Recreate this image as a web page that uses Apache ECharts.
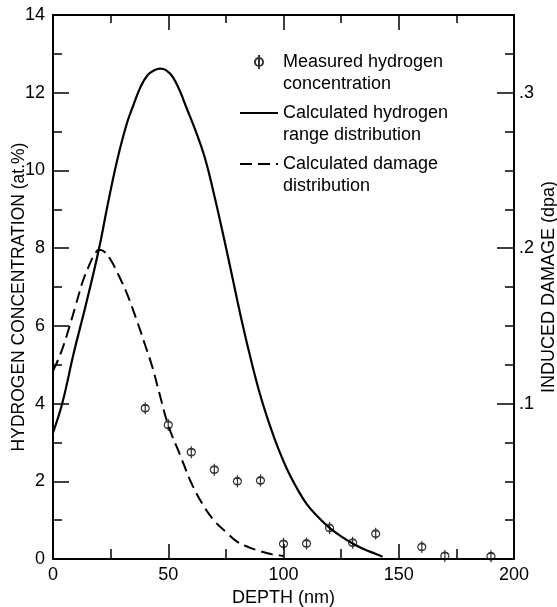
<!DOCTYPE html>
<html>
<head>
<meta charset="utf-8">
<script src="https://cdn.jsdelivr.net/npm/echarts@6/dist/echarts.min.js"></script>
<style>
html,body{margin:0;padding:0;background:#fff;}
#chart{width:557px;height:607px;}
</style>
</head>
<body>
<div id="chart"></div>
<script>
// Measured hydrogen concentration (at.%) vs depth (nm)
const depthMeasured = [40, 50, 60, 70, 80, 90, 100, 110, 120, 130, 140, 160, 170, 190];
const hydrogenMeasured = [3.88, 3.45, 2.75, 2.3, 2.0, 2.02, 0.39, 0.4, 0.8, 0.42, 0.65, 0.31, 0.08, 0.07];

// Calculated hydrogen range distribution (at.%)
const depthRange = [0, 4, 9, 14.5, 20, 24, 28, 32, 35, 38, 41, 44, 46.5, 49, 52, 55, 58, 62, 66, 70, 74, 78, 82, 86, 90, 94, 98, 102, 106, 110, 115, 120, 125, 130, 135, 140, 143];
const hydrogenRange = [3.25, 4.0, 5.3, 6.6, 8.0, 9.2, 10.3, 11.2, 11.7, 12.15, 12.45, 12.58, 12.62, 12.58, 12.4, 12.05, 11.6, 11.0, 10.3, 9.35, 8.3, 7.2, 6.1, 5.1, 4.2, 3.45, 2.8, 2.25, 1.8, 1.42, 1.08, 0.8, 0.58, 0.4, 0.25, 0.13, 0.06];

// Calculated damage distribution (dpa)
const depthDamage = [0, 3, 6, 10, 13, 16, 18, 20, 22, 25, 28, 32, 36, 40, 43, 46, 50, 55, 60, 65, 70, 75, 80, 85, 90, 95, 100];
const damageDpa = [0.121, 0.131, 0.144, 0.164, 0.179, 0.19, 0.196, 0.199, 0.198, 0.1925, 0.184, 0.171, 0.155, 0.1375, 0.124, 0.1075, 0.086, 0.0675, 0.049, 0.035, 0.0245, 0.0175, 0.011, 0.0075, 0.005, 0.003, 0.002];

// Tick labels
const rightTickLabels = {0.1: '.1', 0.2: '.2', 0.3: '.3'};

const legendNames = ['Measured hydrogen\nconcentration', 'Calculated hydrogen\nrange distribution', 'Calculated damage\ndistribution'];
const axisTitles = {x: 'DEPTH (nm)', yLeft: 'HYDROGEN CONCENTRATION (at.%)', yRight: 'INDUCED DAMAGE (dpa)'};

const FONT = '"Liberation Sans", Arial, sans-serif';
const zip = (a, b) => a.map((v, i) => [v, b[i]]);
const phiSymbol = 'path://M4,0L4,12M0.5,6A3.5,3.5,0,1,1,7.5,6A3.5,3.5,0,1,1,0.5,6';

const chart = echarts.init(document.getElementById('chart'), null, {renderer: 'canvas'});
const axisLine = {show: true, onZero: false, lineStyle: {color: '#000', width: 2}};
const option = {
  backgroundColor: '#fff',
  animation: false,
  textStyle: {fontFamily: FONT, color: '#000'},
  grid: {left: 53, right: 43, top: 15, bottom: 48, containLabel: false, outerBoundsMode: 'none'},
  legend: {
    orient: 'vertical',
    left: 239,
    top: 29,
    padding: 0,
    itemGap: -15,
    itemWidth: 38,
    itemHeight: 14,
    selectedMode: false,
    data: [
      {name: legendNames[0]},
      {name: legendNames[1], itemStyle: {opacity: 0}},
      {name: legendNames[2], itemStyle: {opacity: 0}}
    ],
    formatter: name => '\n' + name,
    textStyle: {fontFamily: FONT, fontSize: 18, lineHeight: 22, color: '#000'}
  },
  xAxis: [{
    type: 'value', position: 'bottom', min: 0, max: 200, interval: 50,
    name: axisTitles.x, nameLocation: 'middle', nameGap: 30, nameMoveOverlap: false,
    nameTextStyle: {fontFamily: FONT, fontSize: 18, color: '#000'},
    axisLine: axisLine,
    axisTick: {show: true, inside: true, length: 15, lineStyle: {color: '#000', width: 1.5}},
    minorTick: {show: true, splitNumber: 2, length: 10, lineStyle: {color: '#000', width: 1.5}},
    axisLabel: {fontFamily: FONT, fontSize: 18, color: '#000', margin: 7},
    splitLine: {show: false}
  }, {
    type: 'value', position: 'top', min: 0, max: 200, interval: 50,
    axisLine: axisLine,
    axisTick: {show: true, inside: true, length: 15, lineStyle: {color: '#000', width: 1.5}},
    minorTick: {show: true, splitNumber: 2, length: 8, lineStyle: {color: '#000', width: 1.5}},
    axisLabel: {show: false},
    splitLine: {show: false}
  }],
  yAxis: [{
    type: 'value', position: 'left', min: 0, max: 14, interval: 2,
    name: axisTitles.yLeft, nameLocation: 'middle', nameGap: 25, nameRotate: 90, nameMoveOverlap: false,
    nameTextStyle: {fontFamily: FONT, fontSize: 17.5, color: '#000', padding: [0, 20, 0, 0]},
    axisLine: axisLine,
    axisTick: {show: true, inside: true, length: 16, lineStyle: {color: '#000', width: 1.5}},
    minorTick: {show: true, splitNumber: 2, length: 9, lineStyle: {color: '#000', width: 1.5}},
    axisLabel: {fontFamily: FONT, fontSize: 18, color: '#000', margin: 8},
    splitLine: {show: false}
  }, {
    type: 'value', position: 'right', min: 0, max: 0.35, interval: 0.1,
    name: axisTitles.yRight, nameLocation: 'middle', nameGap: 26, nameRotate: 90, nameMoveOverlap: false,
    nameTextStyle: {fontFamily: FONT, fontSize: 18, color: '#000'},
    axisLine: axisLine,
    axisTick: {show: true, inside: true, length: 17, lineStyle: {color: '#000', width: 1.5}},
    axisLabel: {fontFamily: FONT, fontSize: 18, color: '#000', margin: 5,
      formatter: v => rightTickLabels[Math.round(v * 1000) / 1000] || ''},
    splitLine: {show: false}
  }, {
    type: 'value', position: 'right', min: 0, max: 0.35, interval: 0.025,
    axisLine: {show: false, onZero: false},
    axisTick: {show: true, inside: true, length: 9, lineStyle: {color: '#000', width: 1.5}},
    axisLabel: {show: false},
    splitLine: {show: false}
  }],
  series: [{
    name: legendNames[0],
    type: 'scatter',
    xAxisIndex: 0, yAxisIndex: 0,
    symbol: phiSymbol,
    symbolSize: [8, 12],
    itemStyle: {color: 'rgba(0,0,0,0)', borderColor: '#000', borderWidth: 1.5},
    data: zip(depthMeasured, hydrogenMeasured),
    z: 5
  }, {
    name: legendNames[1],
    type: 'line',
    xAxisIndex: 0, yAxisIndex: 0,
    smooth: 0.4,
    symbol: 'none', showSymbol: false,
    lineStyle: {color: '#000', width: 2.2, type: 'solid'},
    itemStyle: {color: '#000'},
    data: zip(depthRange, hydrogenRange)
  }, {
    name: legendNames[2],
    type: 'line',
    xAxisIndex: 0, yAxisIndex: 1,
    smooth: 0.4,
    symbol: 'none', showSymbol: false,
    lineStyle: {color: '#000', width: 2, type: [12, 6]},
    itemStyle: {color: '#000'},
    data: zip(depthDamage, damageDpa)
  }]
};
chart.setOption(option);
</script>
</body>
</html>
